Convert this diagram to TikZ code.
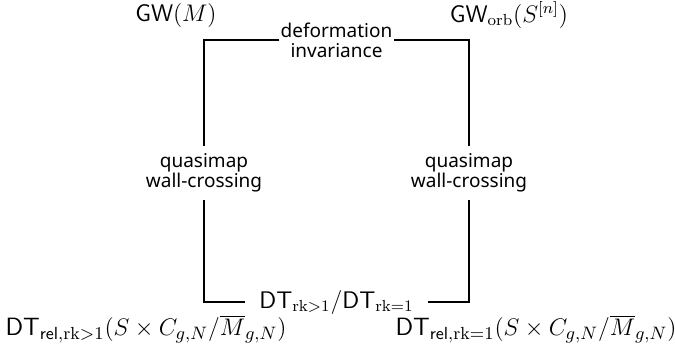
\documentclass[tikz,border=0pt]{standalone}
\usepackage{amsmath}
\usepackage{fontspec}
\newfontfamily\wallfont{Noto Sans}

\tikzset{
  termlabel/.style={font=\sffamily\fontsize{12}{14}\selectfont, inner sep=0pt},
  wall/.style={font=\wallfont\fontsize{9.5}{10}\selectfont, align=center, inner xsep=0.5pt, inner ysep=3.5pt},
  ratio/.style={font=\sffamily\fontsize{12}{14}\selectfont, inner xsep=7pt, inner ysep=2pt},
}

\begin{document}
\begin{tikzpicture}[x=0.5pt, y=-0.5pt]
    \useasboundingbox (0,0) rectangle (675,354);
    \node[termlabel] (gwm) at (176,15) {GW$(M)$};
    \node[termlabel] (gworb) at (509,15) {GW$_{\mathrm{orb}}(S^{[n]})$};
    \node[termlabel, font=\sffamily\fontsize{12.5}{14}\selectfont] (dtrel) at (146,329) {DT$_{\textsf{rel},\mathrm{rk}>1}(S\times C_{g,N}/\overline{M}_{g,N})$};
    \node[termlabel, font=\sffamily\fontsize{12.5}{14}\selectfont] (dtone) at (536,329) {DT$_{\textsf{rel},\mathrm{rk}=1}(S\times C_{g,N}/\overline{M}_{g,N})$};
    \node[wall] (deform) at (336.5,40) {deformation\\invariance};
    \node[wall] (qmleft) at (204,173) {quasimap\\wall-crossing};
    \node[wall] (qmright) at (469,173) {quasimap\\wall-crossing};
    \node[ratio] (ratio) at (336.5,302) {DT$_{\mathrm{rk}>1}$/DT$_{\mathrm{rk}=1}$};
    \draw[thick] (deform) -| (qmleft);
    \draw[thick] (qmleft) |- (ratio);
    \draw[thick] (ratio) -| (qmright);
    \draw[thick] (qmright) |- (deform);
\end{tikzpicture}
\end{document}
